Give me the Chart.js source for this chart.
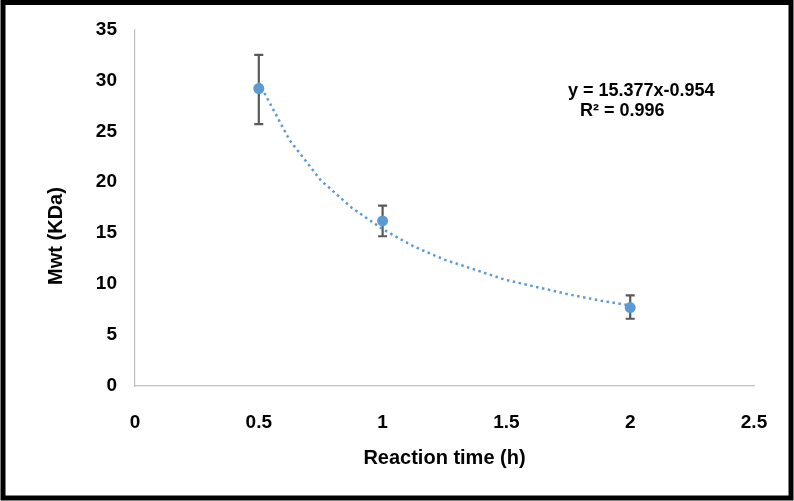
<!DOCTYPE html>
<html>
<head>
<meta charset="utf-8">
<script src="https://cdn.jsdelivr.net/npm/chart.js@4"></script>
<style>
  html, body { margin: 0; padding: 0; background: #ffffff; }
  #wrap { width: 794px; height: 501px; position: relative; }
</style>
</head>
<body>
<div id="wrap"><canvas id="c" width="794" height="501"></canvas></div>
<script>
// ---- data ----
const reactionTime = [0.5, 1, 2];
const mwt = [29.2, 16.2, 7.7];
const errUpper = [32.5, 17.7, 8.9];
const errLower = [25.7, 14.7, 6.6];
// power trendline y = 15.377x^-0.954
const trendX = [0.5, 0.625, 0.75, 0.875, 1, 1.125, 1.25, 1.375, 1.5, 1.625, 1.75, 1.875, 2];
const trendY = [29.8, 24.1, 20.2, 17.5, 15.4, 13.7, 12.4, 11.4, 10.4, 9.7, 9.0, 8.4, 7.9];
const xTickLabels = ['0', '0.5', '1', '1.5', '2', '2.5'];
const yTickLabels = ['0', '5', '10', '15', '20', '25', '30', '35'];
const equationText = ['y = 15.377x-0.954', 'R\u00B2 = 0.996'];
const xTitle = 'Reaction time (h)';
const yTitle = 'Mwt (KDa)';

const FONT = "'Liberation Sans', Arial, sans-serif";

const errorBars = {
  id: 'errorBars',
  beforeDatasetsDraw(chart) {
    const ctx = chart.ctx;
    const xs = chart.scales.x, ys = chart.scales.y;
    ctx.save();
    ctx.strokeStyle = '#595959';
    ctx.lineWidth = 2.2;
    for (let i = 0; i < reactionTime.length; i++) {
      const px = xs.getPixelForValue(reactionTime[i]);
      const pt = ys.getPixelForValue(errUpper[i]);
      const pb = ys.getPixelForValue(errLower[i]);
      ctx.beginPath();
      ctx.moveTo(px, pt); ctx.lineTo(px, pb);
      ctx.moveTo(px - 4.5, pt); ctx.lineTo(px + 4.5, pt);
      ctx.moveTo(px - 4.5, pb); ctx.lineTo(px + 4.5, pb);
      ctx.stroke();
    }
    ctx.restore();
  }
};

const decorations = {
  id: 'decorations',
  afterDraw(chart) {
    const ctx = chart.ctx;
    ctx.save();
    // y axis title
    ctx.fillStyle = '#000000';
    ctx.font = 'bold 20px ' + FONT;
    ctx.textAlign = 'center';
    ctx.textBaseline = 'middle';
    ctx.translate(56, 236);
    ctx.rotate(-Math.PI / 2);
    ctx.fillText(yTitle, 0, 0);
    ctx.restore();

    ctx.save();
    ctx.fillStyle = '#000000';
    ctx.font = 'bold 18px ' + FONT;
    ctx.textAlign = 'left';
    ctx.textBaseline = 'alphabetic';
    ctx.fillText(equationText[0], 568, 96);
    ctx.fillText(equationText[1], 580, 115.7);
    ctx.restore();

    // outer frame
    ctx.save();
    ctx.strokeStyle = '#000000';
    ctx.lineWidth = 5;
    ctx.strokeRect(3, 2.5, 788, 495.5);
    ctx.restore();
  }
};

new Chart(document.getElementById('c'), {
  type: 'scatter',
  data: {
    datasets: [
      {
        label: 'Trendline',
        data: trendX.map((x, i) => ({ x: x, y: trendY[i] })),
        showLine: true,
        borderColor: '#5B9BD5',
        borderWidth: 2.5,
        borderDash: [2.5, 3.5],
        pointRadius: 0,
        cubicInterpolation: 'monotone',
        fill: false,
        order: 0
      },
      {
        label: 'Mwt',
        data: reactionTime.map((x, i) => ({ x: x, y: mwt[i] })),
        backgroundColor: '#5B9BD5',
        borderColor: '#5B9BD5',
        borderWidth: 0,
        pointRadius: 5.5,
        pointHoverRadius: 5.5,
        order: 1
      }
    ]
  },
  options: {
    responsive: false,
    animation: false,
    devicePixelRatio: 1,
    layout: { padding: { top: 28, right: 40, bottom: 0, left: 0 } },
    plugins: {
      legend: { display: false },
      tooltip: { enabled: false }
    },
    scales: {
      x: {
        type: 'linear',
        min: 0,
        max: 2.5,
        afterFit(scale) { scale.height = 115; },
        grid: { display: false, drawTicks: false },
        border: { display: true, color: '#BFBFBF', width: 1.2 },
        ticks: {
          stepSize: 0.5,
          padding: 25,
          color: '#000000',
          font: { family: FONT, size: 19, weight: 'bold' },
          callback: (v, i) => xTickLabels[i]
        },
        title: {
          display: true,
          text: xTitle,
          color: '#000000',
          font: { family: FONT, size: 20, weight: 'bold' },
          padding: { top: 0, bottom: 31 }
        }
      },
      y: {
        type: 'linear',
        min: 0,
        max: 35,
        afterFit(scale) { scale.width = 135; },
        grid: { display: false, drawTicks: false },
        border: { display: true, color: '#BFBFBF', width: 1.2 },
        ticks: {
          stepSize: 5,
          padding: 18,
          color: '#000000',
          font: { family: FONT, size: 19, weight: 'bold' },
          callback: (v, i) => yTickLabels[i]
        },
        title: { display: false }
      }
    }
  },
  plugins: [errorBars, decorations]
});
</script>
</body>
</html>
